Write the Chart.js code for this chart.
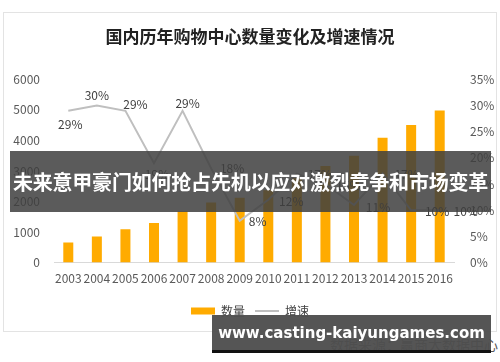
<!DOCTYPE html>
<html>
<head>
<meta charset="utf-8">
<script src="https://cdn.jsdelivr.net/npm/chart.js@4"></script>
<style>
  html, body { margin: 0; padding: 0; background: #fff; }
  #wrap { position: relative; width: 500px; height: 362px; overflow: hidden; }
  #card { position: absolute; left: 3px; top: 12px; width: 492px; height: 318px;
          border: 1px solid #e3e3e3; background: #fff; }
  #chart { position: absolute; left: 0; top: 0; }
  #source { position: absolute; right: 2px; top: 334px; font: 14px "Noto Sans CJK SC"; color: #555; }
  #banner { position: absolute; left: 10px; top: 151px; width: 481px; height: 61px;
            background: rgba(62,62,62,0.85); color: #fff; font: bold 20px "Noto Sans CJK SC";
            line-height: 61px; text-align: center; white-space: nowrap; letter-spacing: -0.2px; }
  #site { position: absolute; left: 212px; top: 315px; width: 279px; height: 35px;
          background: rgba(78,78,78,0.96); border-bottom: 3px solid #111; color: #fff;
          font: bold 15px "DejaVu Sans"; line-height: 36px; text-align: center; white-space: nowrap; }
</style>
</head>
<body>
<div id="wrap">
  <div id="card"></div>
  <div id="source">数据来源：赢商大数据中心</div>
  <canvas id="chart" width="500" height="362"></canvas>
  <div id="banner">未来意甲豪门如何抢占先机以应对激烈竞争和市场变革</div>
  <div id="site">www.casting-kaiyungames.com</div>
</div>
<script>
var years = ['2003', '2004', '2005', '2006', '2007', '2008', '2009', '2010', '2011', '2012', '2013', '2014', '2015', '2016'];
var counts = [655, 855, 1095, 1295, 1675, 1970, 2120, 2370, 2760, 3160, 3500, 4090, 4510, 4980];
var growth = [29, 30, 29, 19, 29, 18, 8, 12, 17, 15, 11, 17, 10, 10];
var leftTicks = [0, 1000, 2000, 3000, 4000, 5000, 6000];
var rightTicks = [0, 5, 10, 15, 20, 25, 30, 35];

var font = '"Noto Sans CJK SC", sans-serif';

// label offsets for the growth line (dx, dy from the point)
var labelOffsets = [
  [2, 14], [0, -10], [10, -6], [3, 11], [5, -7], [21, 0], [18, 1],
  [23, 2], [23, 1], [23, 1], [24, 2], [24, 1], [26, 1], [26, 1]
];

var lineLabels = {
  id: 'lineLabels',
  afterDatasetsDraw: function (chart) {
    var meta = chart.getDatasetMeta(1);
    var ctx = chart.ctx;
    ctx.save();
    ctx.font = '12px ' + font;
    ctx.fillStyle = '#404040';
    ctx.textAlign = 'center';
    ctx.textBaseline = 'middle';
    meta.data.forEach(function (pt, i) {
      var o = labelOffsets[i];
      ctx.fillText(growth[i] + '%', pt.x + o[0], pt.y + o[1]);
    });
    ctx.restore();
  }
};

var myChart = new Chart(document.getElementById('chart'), {
  type: 'bar',
  data: {
    labels: years,
    datasets: [{
      label: '数量',
      data: counts,
      backgroundColor: '#FFAB00',
      categoryPercentage: 1,
      barPercentage: 0.35,
      yAxisID: 'y',
      order: 1
    }, {
      type: 'line',
      label: '增速',
      data: growth,
      borderColor: '#BFBFBF',
      borderWidth: 2,
      pointRadius: 0,
      tension: 0,
      yAxisID: 'y1',
      order: 0
    }]
  },
  options: {
    responsive: false,
    animation: false,
    layout: { padding: { left: 0, right: 0, top: 0, bottom: 35 } },
    scales: {
      x: {
        grid: { display: false, drawTicks: false },
        border: { color: '#D9D9D9' },
        ticks: { autoSkip: false, maxRotation: 0, color: '#595959', padding: 9, font: { family: font, size: 12 } }
      },
      y: {
        position: 'left',
        min: 0, max: 6000,
        afterBuildTicks: function (axis) { axis.ticks = leftTicks.map(function (v) { return { value: v }; }); },
        afterFit: function (axis) { axis.width = 54; },
        grid: { display: false, drawTicks: false },
        border: { display: false },
        ticks: { color: '#595959', padding: 14, font: { family: font, size: 12 },
                 callback: function (v) { return String(v); } }
      },
      y1: {
        position: 'right',
        min: 0, max: 35,
        afterBuildTicks: function (axis) { axis.ticks = rightTicks.map(function (v) { return { value: v }; }); },
        afterFit: function (axis) { axis.width = 46; },
        grid: { display: false, drawTicks: false },
        border: { display: false },
        ticks: { color: '#595959', padding: 16, font: { family: font, size: 12 },
                 callback: function (v) { return v + '%'; } }
      }
    },
    plugins: {
      title: {
        display: true,
        text: '国内历年购物中心数量变化及增速情况',
        color: '#222',
        font: { family: font, size: 17, weight: 'bold' },
        padding: { top: 26, bottom: 33 }
      },
      legend: {
        display: true,
        position: 'bottom',
        labels: {
          color: '#404040',
          font: { family: font, size: 12 },
          usePointStyle: true,
          pointStyleWidth: 24,
          boxHeight: 7,
          padding: 10,
          generateLabels: function (chart) {
            return [
              { text: '数量', fillStyle: '#FFAB00', strokeStyle: '#FFAB00', lineWidth: 0, pointStyle: 'rect', datasetIndex: 0, fontColor: '#404040' },
              { text: '增速', fillStyle: '#BFBFBF', strokeStyle: '#BFBFBF', lineWidth: 2, pointStyle: 'line', datasetIndex: 1, fontColor: '#404040' }
            ];
          }
        }
      },
      tooltip: { enabled: false }
    }
  },
  plugins: [lineLabels]
});
</script>
</body>
</html>
